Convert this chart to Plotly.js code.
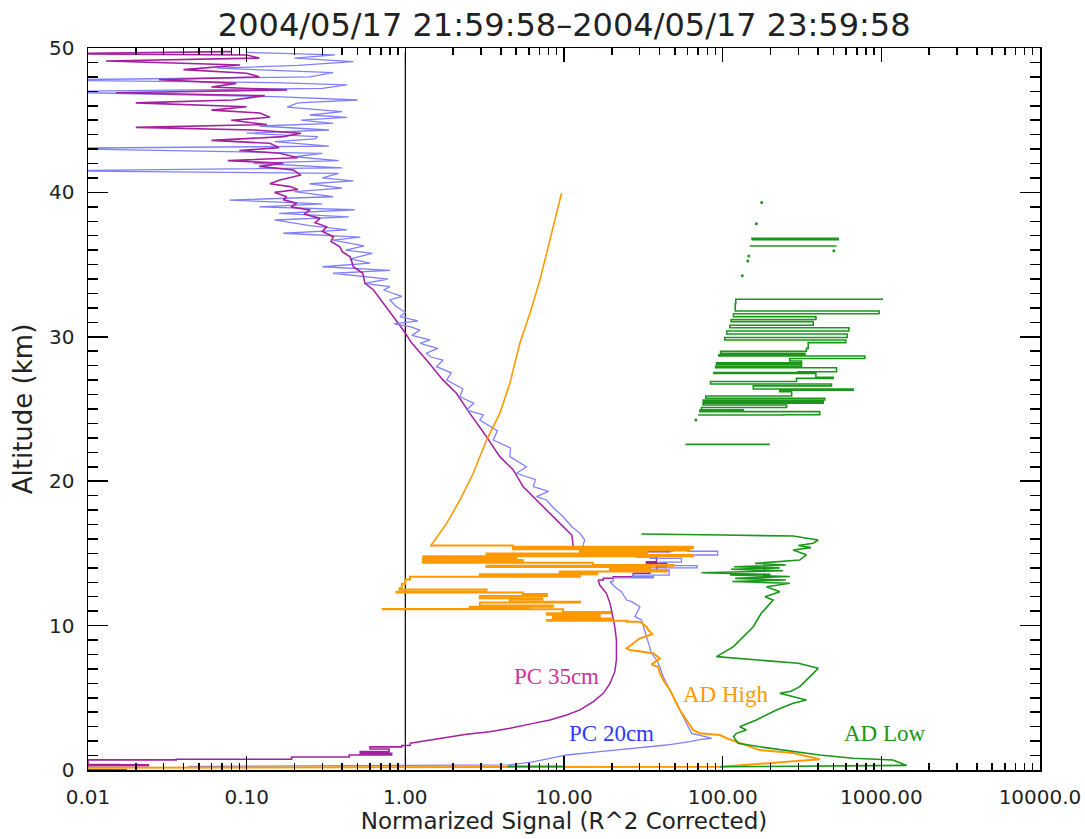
<!DOCTYPE html>
<html>
<head>
<meta charset="utf-8">
<script src="https://cdn.plot.ly/plotly-3.0.1.min.js"></script>
<style>html,body{margin:0;padding:0;background:#fff;}#chart{width:1085px;height:839px;}</style>
</head>
<body>
<div id="chart"></div>
<script>
// ---- tick labels ----
const xTickVals = [0.01, 0.1, 1, 10, 100, 1000, 10000];
const xTickText = ["0.01", "0.10", "1.00", "10.00", "100.00", "1000.00", "10000.0"];
const yTickVals = [0, 10, 20, 30, 40, 50];
const yTickText = ["0", "10", "20", "30", "40", "50"];

// ---- PC 35cm (purple), read from the profile, split by altitude zone ----
const pc35BaseX   = [0.01,0.01,0.024,0.0157,0.01,0.01,0.036,0.192,0.443,0.82,0.52,0.79,0.6,0.95,1.07];
const pc35BaseAlt = [0.05,0.30,0.36,0.38,0.42,0.70,0.74,0.90,1.04,1.15,1.27,1.45,1.6,1.7,1.85];
const pc35LowX    = [1.07,1.43,1.91,2.43,3.41,4.56,6.40,8.15,10.4,12.6,15.3,17.7,19.5,20.9,21.4,21.4,20.9,20.4,19.9,19.5,18.5,16.8,16.4];
const pc35LowAlt  = [1.85,2.08,2.31,2.47,2.65,2.89,3.23,3.46,3.81,4.16,4.73,5.31,6.0,6.81,7.62,9.0,9.92,10.62,11.08,11.54,12.24,12.81,13.16];
const pc35LayerX  = [16.4,17.7,20.4,27.3,34.8,38.3,44.3,33.1,38.3,28.6,33.1,46.5,48.8,15.2,11.4];
const pc35LayerAlt= [13.16,13.28,13.39,13.62,13.85,14.08,14.31,14.43,14.77,14.89,15.12,15.19,15.35,15.45,15.58];
const pc35MidX    = [11.4,11.2,9.42,7.76,6.40,5.53,4.79,3.94,3.25,2.55,2.10,1.73,1.36,1.10,0.97,0.84,0.73,0.63,0.556,0.54];
const pc35MidAlt  = [15.58,16.27,17.08,18.0,18.93,19.62,20.78,21.7,23.08,24.7,26.09,27.0,28.39,29.55,30.47,31.39,32.32,33.24,33.7,34.4];
const pc35TopX    = [0.54,0.47,0.46,0.448,0.40,0.387,0.34,0.352,0.30,0.319,0.27,0.29,0.23,0.251,0.19,0.207,0.17,0.179,0.15,0.21,0.188,0.14,0.162,0.22,0.197,0.12,0.17,0.076,0.21,0.162,0.09,0.16,0.14,0.06,0.17,0.22,0.11,0.02,0.134,0.08,0.14,0.121,0.06,0.10,0.02,0.082,0.13,0.015,0.18,0.06,0.086,0.028,0.12,0.100,0.04,0.091,0.013,0.12,0.100,0.005,0.08];
const pc35TopAlt  = [34.4,34.85,35.2,35.54,35.9,36.24,36.6,36.93,37.3,37.62,37.9,38.2,38.5,38.78,39.0,39.24,39.5,39.7,40.0,40.2,40.4,40.6,40.86,41.2,41.55,41.8,42.02,42.2,42.4,42.71,42.9,43.1,43.4,43.6,43.86,44.1,44.32,44.5,44.7,45.0,45.2,45.5,45.7,45.93,46.2,46.4,46.7,46.9,47.1,47.3,47.55,47.8,48.0,48.25,48.5,48.82,49.1,49.3,49.52,49.6,49.75];

// ---- PC 20cm (blue) ----
const pc20LowX    = [0.043,0.74,4.56,6.37,10.4,16.8,27.3,44.3,62.1,71.8,85.1,63.7,60.6,56.4,52.4,48.8,45.4,42.2,40.2,38.3,35.6,34.0,32.4,30.8,28.0,30.1,26.7,24.8,23.0,20.9,19.5];
const pc20LowAlt  = [0.25,0.30,0.35,0.57,1.04,1.27,1.50,1.73,1.96,2.10,2.20,2.54,3.0,3.69,4.38,5.08,5.77,6.46,7.15,7.62,8.08,8.77,9.47,10.39,10.62,11.31,11.66,11.77,12.35,12.69,13.04];
const pc20LayerX  = [19.5,20.4,36.6,27.0,46.0,30.0,69.0,40.0,55.0,35.0,93.0,60.0,40.0,13.2];
const pc20LayerAlt= [13.04,13.3,13.39,13.5,13.85,14.0,14.15,14.4,14.66,14.89,15.15,15.24,15.46,15.6];
const pc20MidX    = [13.2,13.5,12.6,11.2,9.88,8.5,7.76,6.71,8.0,6.40,6.6,5.02,5.8,4.56,4.6,3.58,3.8,2.95,3.1,2.43,2.7,2.21,2.3,1.82,1.95,1.57,1.73,1.45,1.36,1.6,1.24,1.43,1.10,1.24,1.07,0.85,1.2,0.925,1.0,0.88,0.80,0.95,0.73,0.80];
const pc20MidAlt  = [15.6,15.93,16.39,16.85,17.54,18.2,18.7,18.93,19.3,19.62,20.1,20.55,21.0,21.7,22.3,22.85,23.5,24.24,24.6,24.93,25.4,25.85,26.4,27.0,27.5,27.93,28.39,28.6,28.86,29.2,29.55,29.78,30.1,30.47,30.7,30.9,31.1,31.39,31.7,32.08,32.55,32.8,33.24,33.47];
const pc20TopX    = [0.80,0.55,0.78,0.35,0.80,0.30,0.60,0.45,0.62,0.42,0.55,0.35,0.52,0.17,0.43,0.25,0.15,0.44,0.16,0.48,0.12,0.30,0.078,0.35,0.20,0.40,0.25,0.47,0.30,0.38,0.005,0.40,0.11,0.38,0.20,0.30,0.005,0.33,0.15,0.27,0.28,0.10,0.33,0.12,0.35,0.22,0.43,0.25,0.40,0.18,0.21,0.50,0.15,0.005,0.30,0.43,0.15,0.005,0.25,0.35,0.065,0.21,0.47,0.20,0.36,0.10];
const pc20TopAlt  = [33.47,33.7,34.0,34.4,34.6,34.85,35.1,35.4,35.78,36.0,36.3,36.7,36.9,37.17,37.4,37.7,38.09,38.3,38.55,38.8,39.0,39.2,39.47,39.7,40.05,40.3,40.6,40.8,41.0,41.32,41.5,41.7,42.02,42.2,42.47,42.7,43.05,43.2,43.51,43.7,43.86,44.1,44.32,44.6,44.78,45.01,45.2,45.36,45.6,45.9,46.2,46.4,46.63,46.97,47.2,47.44,47.6,47.78,48.0,48.3,48.6,48.8,49.05,49.3,49.52,49.7];

// ---- AD High (orange) ----
const adHighLowX    = [0.01,96,409,277,171,128,106,96,71.8,65.1,59.2,53.7,48.8,46.5,42.2,40.2,39.2,35.6,40.2,36.5,26.0,24.8,30.1,36.0,34.0,33.1,30.1];
const adHighLowAlt  = [0.16,0.22,0.74,1.18,1.38,1.85,2.2,2.42,2.54,2.77,3.46,4.16,5.08,5.54,6.23,6.7,7.15,7.3,7.73,8.08,8.31,8.43,9.12,9.4,9.7,9.92,10.27];
const adHighLayerX  = [30.1,24.9,7.8,20.0,8.5,16.8,7.8,19.5,9.84,0.72,6.0,2.55,8.5,2.95,12.6,4.56,7.3,2.95,7.8,5.5,0.88,3.25,0.92,0.95,1.0,1.07,12.6,2.95,16.2,9.4,44.5,19.5,35.0,3.25,48.8,15.2,1.29,5.5,1.29,5.0,1.3,64.9,3.25,33.3,12.6,62.0,4.76,64.9,4.76,1.45];
const adHighLayerAlt= [10.27,10.33,10.39,10.5,10.62,10.75,10.85,10.95,11.13,11.15,11.25,11.31,11.4,11.6,11.66,11.8,11.89,12.05,12.19,12.3,12.35,12.5,12.58,12.9,13.2,13.39,13.45,13.55,13.62,13.75,13.85,13.97,14.05,14.15,14.2,14.35,14.43,14.55,14.62,14.7,14.8,14.89,15.0,15.12,15.2,15.28,15.38,15.46,15.55,15.6];
const adHighCurveX  = [1.45,1.47,1.82,2.21,2.68,3.25,3.94,4.56,5.27,6.10,7.05,7.95,8.97,9.65];
const adHighCurveAlt= [15.6,15.63,17.08,18.7,20.55,22.85,24.7,26.78,29.55,31.63,33.93,36.24,38.55,39.94];

// ---- AD Low (green) ----
const adLowLowX   = [0.01,0.0176,null,4.4,9.8,null,96,600,1442,1183,665,409,278,171,125,117,122,141,128,163,218,278,337,278,229,270,306,350,400,300,171,91.4,117,156,175,208,185,229,189,265,115,250,120,265,111,200,73.5,240,113,229,118,250,160,306,337,278,360,300,372,390,400,340,278,100,30.8];
const adLowLowAlt = [0.02,0.02,null,0.25,0.25,null,0.22,0.26,0.32,0.69,0.81,1.04,1.27,1.61,1.85,2.31,2.54,2.77,3.0,3.46,4.16,4.62,4.85,5.08,5.31,5.45,5.77,6.4,7.04,7.39,7.62,7.85,8.54,9.92,10.85,11.77,12.0,12.35,12.69,12.93,13.05,13.16,13.27,13.4,13.5,13.55,13.66,13.8,13.9,14.0,14.08,14.2,14.31,14.54,14.9,15.24,15.4,15.55,15.7,15.85,15.93,16.05,16.2,16.27,16.34];
const adLowUpX    = [58.3,198,null,70.1,240,409,71.8,135,73.5,253,75.3,430,75.3,440,78.3,272,229,664,156,485,83.8,292,497,387,88,299,522,90.2,314,91.5,314,265,787,94.6,330,97,337,346,597,103,609,106,624,111,372,113,387,117,968,120,121,1012,null,148,522,null,153,535,153,535];
const adLowUpAlt  = [22.55,22.55,null,24.58,24.6,24.82,24.93,24.95,25.1,25.28,25.4,25.51,25.62,25.74,25.9,26.2,26.3,26.38,26.6,26.73,26.9,27.12,27.2,27.47,27.52,27.58,27.86,27.95,28.09,28.2,28.32,28.5,28.67,28.75,28.85,29.0,29.2,29.6,29.78,29.95,30.19,30.4,30.63,30.8,31.05,31.2,31.39,31.6,31.79,32.3,32.6,32.67,null,36.29,36.29,null,36.72,36.77,36.82,36.85];
const adLowDotX   = [67.8, 133, 144, 146, 502, 163, 176];
const adLowDotAlt = [24.24, 34.23, 35.25, 35.6, 35.96, 37.83, 39.3];

// ---- unity reference line ----
const refX = [1, 1];
const refAlt = [0, 49.7];

const C_PC35 = '#a3209f', C_PC20 = '#8080ff', C_HIGH = '#ff9900', C_LOW = '#1a961a';

function seg(x, y, color, width, shape) {
  return {x: x, y: y, mode: 'lines', line: {color: color, width: width, shape: shape},
          showlegend: false, hoverinfo: 'skip', connectgaps: false};
}

const traces = [
  seg(refX, refAlt, '#000', 1.2, 'linear'),
  seg(pc20TopX, pc20TopAlt, C_PC20, 1.3, 'linear'),
  seg(pc35BaseX, pc35BaseAlt, C_PC35, 1.6, 'hv'),
  seg(pc35LowX, pc35LowAlt, C_PC35, 1.5, 'linear'),
  seg(pc35LayerX, pc35LayerAlt, C_PC35, 1.5, 'hv'),
  seg(pc35MidX, pc35MidAlt, C_PC35, 1.5, 'linear'),
  seg(pc35TopX, pc35TopAlt, C_PC35, 1.6, 'linear'),
  seg(pc20LowX, pc20LowAlt, C_PC20, 1.3, 'linear'),
  seg(pc20LayerX, pc20LayerAlt, C_PC20, 1.3, 'hv'),
  seg(pc20MidX, pc20MidAlt, C_PC20, 1.3, 'linear'),
  seg(adHighLowX, adHighLowAlt, C_HIGH, 2, 'linear'),
  seg(adHighLayerX, adHighLayerAlt, C_HIGH, 2, 'hv'),
  seg(adHighCurveX, adHighCurveAlt, C_HIGH, 1.6, 'linear'),
  seg(adLowLowX, adLowLowAlt, C_LOW, 1.6, 'linear'),
  seg(adLowUpX, adLowUpAlt, C_LOW, 1.6, 'hv'),
  {x: adLowDotX, y: adLowDotAlt, mode: 'markers', marker: {color: C_LOW, size: 3}, showlegend: false, hoverinfo: 'skip'}
];

const tickFont = {family: 'DejaVu Sans, sans-serif', size: 20, color: '#222'};
const labFont = (c) => ({family: 'Liberation Serif, Times New Roman, serif', size: 23, color: c});
const lab = (text, x, y, c) => ({text: text, xref: 'paper', yref: 'paper', x: x, y: y, xanchor: 'center', yanchor: 'middle', showarrow: false, font: labFont(c)});

const layout = {
  width: 1085, height: 839,
  margin: {l: 88, r: 45, t: 48, b: 69},
  paper_bgcolor: '#fff', plot_bgcolor: '#fff',
  title: {text: '2004/05/17 21:59:58\u20132004/05/17 23:59:58', font: {family: 'DejaVu Sans, sans-serif', size: 32, color: '#222'}, x: 0.52, xanchor: 'center', y: 0.971, yanchor: 'middle', yref: 'container'},
  xaxis: {
    type: 'log', range: [-2, 4], tickmode: 'array', tickvals: xTickVals, ticktext: xTickText,
    ticks: 'inside', ticklen: 14, tickwidth: 1.5, tickcolor: '#000',
    minor: {ticks: 'inside', ticklen: 7, tickwidth: 1.5, tickcolor: '#000', dtick: 'D1', showgrid: false},
    showline: true, linecolor: '#000', linewidth: 1.5, mirror: 'allticks',
    showgrid: false, zeroline: false, tickfont: tickFont, ticklabelstandoff: 8,
    title: {text: 'Normarized Signal (R^2 Corrected)', font: {family: 'DejaVu Sans, sans-serif', size: 23, color: '#222'}, standoff: 4}
  },
  yaxis: {
    range: [0, 50], tickmode: 'array', tickvals: yTickVals, ticktext: yTickText,
    ticks: 'inside', ticklen: 20, tickwidth: 1.5, tickcolor: '#000',
    minor: {ticks: 'inside', ticklen: 10, tickwidth: 1.5, tickcolor: '#000', dtick: 1, showgrid: false},
    showline: true, linecolor: '#000', linewidth: 1.5, mirror: 'allticks',
    showgrid: false, zeroline: false, tickfont: tickFont, ticklabelstandoff: 8,
    title: {text: 'Altitude (km)', font: {family: 'DejaVu Sans, sans-serif', size: 26, color: '#222'}, standoff: 9}
  },
  annotations: [
    lab('PC 35cm', 0.492, 0.129, '#cc3399'),
    lab('PC 20cm', 0.550, 0.051, '#2a3cff'),
    lab('AD High', 0.670, 0.104, '#ff9900'),
    lab('AD Low', 0.837, 0.051, '#1a961a')
  ]
};

Plotly.newPlot('chart', traces, layout, {staticPlot: true, displayModeBar: false});
</script>
</body>
</html>
